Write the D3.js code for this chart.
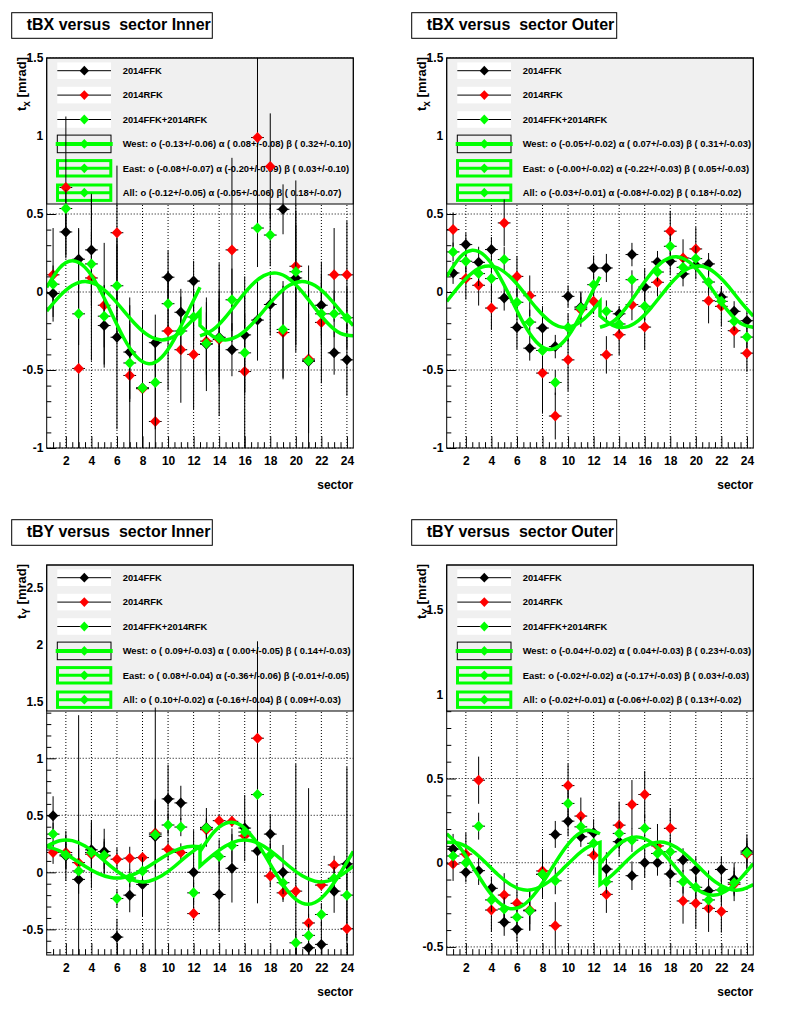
<!DOCTYPE html>
<html>
<head>
<meta charset="utf-8">
<script src="https://cdn.jsdelivr.net/npm/d3@7"></script>
<style>
  body { margin: 0; background: #fff; }
  text { font-family: "Liberation Sans", Arial, Helvetica, sans-serif; font-weight: bold; white-space: pre; }
</style>
</head>
<body>
<svg id="chart" width="800" height="1014"></svg>
<script>
const sectors = [1,2,3,4,5,6,7,8,9,10,11,12,13,14,15,16,17,18,19,20,21,22,23,24];
const sectorTicks = [2,4,6,8,10,12,14,16,18,20,22,24];
const sectorXErr = 0.5;
const fitWestX = [0.5,1.5,2.5,3.5,4.5,5.5,6.5,7.5,8.5,9.5,10.5,11.5,12.5];
const fitEastX = [12.5,13.5,14.5,15.5,16.5,17.5,18.5,19.5,20.5,21.5,22.5,23.5,24.5];
const seriesNames = ['2014FFK', '2014RFK', '2014FFK+2014RFK'];

// tBX Inner
const bxInFFK = [-0.01,0.385,0.21,0.27,-0.215,-0.29,-0.385,-0.615,-0.325,0.095,-0.13,0.07,-0.335,-0.29,-0.37,-0.275,-0.18,-0.08,0.53,0.09,-0.445,-0.085,-0.39,-0.435];
const bxInFFKErr = [0.15,0.15,0.19,0.36,0.25,0.59,0.3,0.46,0.18,0.17,0.15,0.13,0.3,0.3,0.17,0.375,0.26,0.2,0.16,0.43,0.46,0.2,0.14,0.23];
const bxInRFK = [0.11,0.67,-0.49,0.09,-0.085,0.38,-0.535,-0.62,-0.83,-0.25,-0.37,-0.4,-0.315,-0.305,0.27,-0.51,0.99,0.805,-0.26,0.165,-0.43,-0.195,0.11,0.11];
const bxInRFKErr = [0.3,0.455,0.9,0.53,0.4,0.43,0.5,0.5,0.5,0.38,0.34,0.35,0.25,0.49,0.59,0.5,0.6,0.34,0.3,0.55,0.6,0.39,0.3,0.345];
const bxInSum = [0.05,0.535,-0.14,0.18,-0.155,0.04,-0.455,-0.615,-0.58,-0.075,-0.25,-0.16,-0.33,-0.295,-0.05,-0.39,0.41,0.365,-0.24,0.13,-0.44,-0.14,-0.14,-0.165];
const bxInSumErr = [0.12,0.12,0.2,0.2,0.2,0.3,0.25,0.3,0.3,0.15,0.15,0.15,0.2,0.25,0.2,0.25,0.25,0.2,0.31,0.3,0.3,0.2,0.15,0.2];
const bxInWest = [0.03,0.153,0.2,0.158,0.04,-0.124,-0.29,-0.413,-0.46,-0.418,-0.3,-0.136,0.03];
const bxInEast = [-0.281,-0.243,-0.161,-0.057,0.04,0.105,0.121,0.083,0.001,-0.103,-0.2,-0.265,-0.281];
const bxInAllW = [-0.122,-0.028,0.041,0.067,0.043,-0.025,-0.118,-0.212,-0.281,-0.307,-0.283,-0.215,-0.122];
const bxInAllE = [-0.215,-0.283,-0.307,-0.281,-0.212,-0.118,-0.025,0.043,0.067,0.041,-0.028,-0.122,-0.215];
const bxInFits = [
  'West: o (-0.13+/-0.06) \u03b1 ( 0.08+/-0.08) \u03b2 ( 0.32+/-0.10)',
  'East: o (-0.08+/-0.07) \u03b1 (-0.20+/-0.09) \u03b2 ( 0.03+/-0.10)',
  'All: o (-0.12+/-0.05) \u03b1 (-0.05+/-0.06) \u03b2 ( 0.18+/-0.07)'
];

// tBX Outer
const bxOutFFK = [0.122,0.304,0.19,0.272,-0.039,-0.227,-0.36,-0.231,-0.35,-0.028,-0.096,0.154,0.154,-0.14,0.24,0.032,0.193,0.197,0.116,0.171,0.18,-0.032,-0.124,-0.184];
const bxOutFFKErr = [0.07,0.075,0.1,0.08,0.08,0.14,0.08,0.14,0.075,0.07,0.1,0.08,0.09,0.05,0.075,0.12,0.07,0.09,0.08,0.09,0.07,0.06,0.065,0.07];
const bxOutRFK = [0.4,0.086,0.043,-0.103,0.443,0.1,-0.024,-0.52,-0.795,-0.435,-0.113,-0.06,-0.403,-0.274,-0.081,-0.225,0.062,0.39,0.218,0.276,-0.056,-0.092,-0.248,-0.392];
const bxOutRFKErr = [0.11,0.135,0.13,0.14,0.15,0.13,0.13,0.26,0.15,0.2,0.11,0.075,0.12,0.13,0.1,0.145,0.09,0.13,0.12,0.14,0.145,0.13,0.11,0.12];
const bxOutSum = [0.257,0.197,0.118,0.086,0.208,-0.066,-0.193,-0.375,-0.58,-0.227,-0.103,0.047,-0.124,-0.205,0.079,-0.092,0.128,0.293,0.158,0.214,0.064,-0.06,-0.188,-0.289];
const bxOutSumErr = [0.06,0.07,0.08,0.08,0.08,0.09,0.08,0.12,0.08,0.09,0.07,0.06,0.07,0.06,0.06,0.09,0.06,0.08,0.07,0.08,0.07,0.06,0.06,0.07];
const bxOutWest = [0.098,0.219,0.268,0.231,0.12,-0.037,-0.198,-0.319,-0.368,-0.331,-0.22,-0.063,0.098];
const bxOutEast = [-0.226,-0.191,-0.105,0.009,0.12,0.2,0.226,0.191,0.105,-0.009,-0.12,-0.2,-0.226];
const bxOutAllW = [-0.061,0.041,0.123,0.165,0.154,0.094,0.001,-0.101,-0.183,-0.225,-0.214,-0.154,-0.061];
const bxOutAllE = [-0.154,-0.214,-0.225,-0.183,-0.101,0.001,0.094,0.154,0.165,0.123,0.041,-0.061,-0.154];
const bxOutFits = [
  'West: o (-0.05+/-0.02) \u03b1 ( 0.07+/-0.03) \u03b2 ( 0.31+/-0.03)',
  'East: o (-0.00+/-0.02) \u03b1 (-0.22+/-0.03) \u03b2 ( 0.05+/-0.03)',
  'All: o (-0.03+/-0.01) \u03b1 (-0.08+/-0.02) \u03b2 ( 0.18+/-0.02)'
];

// tBY Inner
const byInFFK = [0.497,0.144,-0.062,0.197,0.182,-0.568,-0.2,-0.106,0.315,0.644,0.609,0.0,0.394,-0.194,0.035,0.388,0.188,0.335,0.0,-0.85,-0.662,-0.632,-0.165,0.074];
const byInFFKErr = [0.17,0.22,1.44,0.24,0.2,0.16,0.15,0.28,1.13,0.3,0.15,0.37,0.17,0.33,0.3,0.29,0.46,0.17,0.24,1.8,1.4,0.2,0.19,0.85];
const byInRFK = [0.174,0.174,0.085,0.159,0.144,0.115,0.124,0.129,0.344,0.203,0.174,-0.362,0.374,0.453,0.447,0.32,1.176,-0.032,-0.18,-0.165,-0.444,-0.112,0.065,-0.494];
const byInRFKErr = [0.1,0.15,0.2,0.3,0.15,0.1,0.1,0.05,0.3,0.1,0.08,0.06,0.1,0.05,0.05,0.05,0.85,0.1,0.08,0.05,0.08,0.05,0.08,0.1];
const byInSum = [0.335,0.153,0.012,0.174,0.15,-0.23,-0.05,0.012,0.329,0.415,0.397,-0.18,0.388,0.138,0.235,0.353,0.682,0.153,-0.091,-0.618,-0.553,-0.37,-0.053,-0.2];
const byInSumErr = [0.1,0.12,0.2,0.15,0.12,0.08,0.08,0.12,0.3,0.1,0.08,0.1,0.08,0.15,0.15,0.1,0.3,0.1,0.1,0.1,0.1,0.1,0.1,0.2];
const byInWest = [0.225,0.189,0.126,0.054,-0.009,-0.045,-0.045,-0.009,0.054,0.126,0.189,0.225,0.225];
const byInEast = [0.183,0.342,0.43,0.425,0.327,0.164,-0.023,-0.182,-0.27,-0.265,-0.167,-0.004,0.183];
const byInAllW = [0.228,0.277,0.278,0.231,0.15,0.055,-0.028,-0.077,-0.078,-0.031,0.051,0.146,0.228];
const byInAllE = [0.055,0.15,0.231,0.278,0.277,0.228,0.146,0.051,-0.031,-0.078,-0.077,-0.028,0.055];
const byInFits = [
  'West: o ( 0.09+/-0.03) \u03b1 ( 0.00+/-0.05) \u03b2 ( 0.14+/-0.03)',
  'East: o ( 0.08+/-0.04) \u03b1 (-0.36+/-0.06) \u03b2 (-0.01+/-0.05)',
  'All: o ( 0.10+/-0.02) \u03b1 (-0.16+/-0.04) \u03b2 ( 0.09+/-0.03)'
];

// tBY Outer
const byOutFFK = [0.081,-0.057,-0.047,-0.152,-0.354,-0.395,-0.285,-0.069,0.168,0.247,0.154,0.178,-0.038,0.125,-0.077,0.0,0.0,-0.067,0.016,-0.043,-0.166,-0.04,-0.099,0.069];
const byOutFFKErr = [0.09,0.06,0.085,0.07,0.08,0.075,0.12,0.14,0.08,0.09,0.06,0.08,0.1,0.09,0.085,0.09,0.077,0.075,0.07,0.08,0.12,0.075,0.1,0.1];
const byOutRFK = [-0.008,0.051,0.49,-0.281,-0.192,-0.241,-0.281,-0.049,-0.374,0.458,0.277,0.045,-0.188,0.223,0.346,0.405,0.1,0.204,-0.227,-0.241,-0.271,-0.29,-0.128,0.051];
const byOutRFKErr = [0.1,0.127,0.14,0.13,0.13,0.12,0.12,0.13,0.14,0.13,0.11,0.12,0.11,0.14,0.145,0.14,0.13,0.12,0.135,0.15,0.14,0.125,0.1,0.09];
const byOutSum = [0.04,0.0,0.217,-0.221,-0.275,-0.324,-0.285,-0.069,-0.107,0.352,0.213,0.115,-0.113,0.174,0.134,0.204,0.055,0.065,-0.113,-0.146,-0.221,-0.162,-0.119,0.059];
const byOutSumErr = [0.07,0.07,0.08,0.07,0.07,0.07,0.08,0.1,0.08,0.08,0.06,0.07,0.07,0.07,0.07,0.08,0.07,0.07,0.07,0.07,0.08,0.07,0.07,0.06];
const byOutWest = [0.172,0.094,-0.019,-0.138,-0.231,-0.273,-0.252,-0.174,-0.061,0.058,0.151,0.193,0.172];
const byOutEast = [-0.005,0.079,0.136,0.152,0.121,0.053,-0.035,-0.119,-0.176,-0.192,-0.161,-0.093,-0.005];
const byOutAllW = [0.121,0.114,0.072,0.004,-0.07,-0.13,-0.161,-0.154,-0.112,-0.044,0.03,0.09,0.121];
const byOutAllE = [-0.13,-0.07,0.004,0.072,0.114,0.121,0.09,0.03,-0.044,-0.112,-0.154,-0.161,-0.13];
const byOutFits = [
  'West: o (-0.04+/-0.02) \u03b1 ( 0.04+/-0.03) \u03b2 ( 0.23+/-0.03)',
  'East: o (-0.02+/-0.02) \u03b1 (-0.17+/-0.03) \u03b2 ( 0.03+/-0.03)',
  'All: o (-0.02+/-0.01) \u03b1 (-0.06+/-0.02) \u03b2 ( 0.13+/-0.02)'
];

const yTicksX = [-1, -0.5, 0, 0.5, 1, 1.5];
const yTicksYIn = [-0.5, 0, 0.5, 1, 1.5, 2, 2.5];
const yTicksYOut = [-0.5, 0, 0.5, 1, 1.5];

const panels = [
  { title: 'tBX versus  sector Inner', sub: 'x', yDomain: [-1, 1.5], yTicks: yTicksX,
    series: [[bxInFFK, bxInFFKErr], [bxInRFK, bxInRFKErr], [bxInSum, bxInSumErr]],
    fits: [bxInWest, bxInEast, bxInAllW, bxInAllE], labels: bxInFits },
  { title: 'tBX versus  sector Outer', sub: 'x', yDomain: [-1, 1.5], yTicks: yTicksX,
    series: [[bxOutFFK, bxOutFFKErr], [bxOutRFK, bxOutRFKErr], [bxOutSum, bxOutSumErr]],
    fits: [bxOutWest, bxOutEast, bxOutAllW, bxOutAllE], labels: bxOutFits },
  { title: 'tBY versus  sector Inner', sub: 'Y', yDomain: [-0.725, 2.695], yTicks: yTicksYIn,
    series: [[byInFFK, byInFFKErr], [byInRFK, byInRFKErr], [byInSum, byInSumErr]],
    fits: [byInWest, byInEast, byInAllW, byInAllE], labels: byInFits },
  { title: 'tBY versus  sector Outer', sub: 'Y', yDomain: [-0.548, 1.768], yTicks: yTicksYOut,
    series: [[byOutFFK, byOutFFKErr], [byOutRFK, byOutRFKErr], [byOutSum, byOutSumErr]],
    fits: [byOutWest, byOutEast, byOutAllW, byOutAllE], labels: byOutFits }
];

const FONT = '"Liberation Sans", Arial, Helvetica, sans-serif';
const colors = ['#000000', '#ff0000', '#00ff00'];
const fitColor = '#00ff00';
const svg = d3.select('#chart');

const diamond = (w, h) => `M0,${-h}L${w},0L0,${h}L${-w},0Z`;

panels.forEach((p, i) => {
  const col = i % 2, row = Math.floor(i / 2);
  const ox = 400 * col, oy = 507 * row;
  const x0 = 46.7 + ox, x1 = 353.3 + ox, y0 = 58 + oy, y1 = 448 + oy;
  const legH = 146;

  const x = d3.scaleLinear().domain([0.5, 24.5]).range([x0, x1]);
  const y = d3.scaleLinear().domain(p.yDomain).range([y1, y0]);
  const g = svg.append('g');

  // title box
  g.append('rect')
    .attr('x', 11.7 + ox).attr('y', 12.7 + oy)
    .attr('width', col === 0 ? 200.6 : 205).attr('height', 25.6)
    .attr('fill', '#fff').attr('stroke', '#000');
  g.append('text')
    .attr('x', 26.7 + ox).attr('y', 29.5 + oy)
    .attr('font-size', 16)
    .text(p.title);

  const clipId = 'clip' + i;
  svg.append('clipPath').attr('id', clipId)
    .append('rect').attr('x', x0).attr('y', y0).attr('width', x1 - x0).attr('height', y1 - y0);

  // grid
  g.append('g').selectAll('line').data(sectorTicks).join('line')
    .attr('x1', d => x(d)).attr('x2', d => x(d))
    .attr('y1', y0).attr('y2', y1)
    .attr('stroke', '#000').attr('stroke-dasharray', '1,2');
  g.append('g').selectAll('line').data(p.yTicks).join('line')
    .attr('x1', x0).attr('x2', x1)
    .attr('y1', d => y(d)).attr('y2', d => y(d))
    .attr('stroke', '#000').attr('stroke-dasharray', '1,2');

  // axes
  const xMinor = d3.range(1, 24.01, 0.5).filter(d => d % 2 !== 0);
  const axMinor = g.append('g').attr('transform', `translate(0,${y1})`)
    .call(d3.axisBottom(x).tickValues(xMinor).tickSize(-5.85).tickFormat(''));
  axMinor.select('.domain').remove();
  const axX = g.append('g').attr('transform', `translate(0,${y1})`)
    .call(d3.axisBottom(x).tickValues(sectorTicks).tickSize(-11.7).tickPadding(8.5).tickFormat(d3.format('d')));
  axX.select('.domain').remove();
  axX.attr('font-family', FONT).attr('font-size', 12).attr('font-weight', 'bold');

  const yMinor = d3.range(Math.ceil(p.yDomain[0] * 10), Math.floor(p.yDomain[1] * 10) + 1)
    .map(d => d / 10).filter(d => Math.abs(d * 2 - Math.round(d * 2)) > 1e-6);
  const ayMinor = g.append('g').attr('transform', `translate(${x0},0)`)
    .call(d3.axisLeft(y).tickValues(yMinor).tickSize(-4.6).tickFormat(''));
  ayMinor.select('.domain').remove();
  const axY = g.append('g').attr('transform', `translate(${x0},0)`)
    .call(d3.axisLeft(y).tickValues(p.yTicks).tickSize(-9.2).tickPadding(3.4)
      .tickFormat(d => String(d)));
  axY.select('.domain').remove();
  axY.attr('font-family', FONT).attr('font-size', 12).attr('font-weight', 'bold');

  // axis titles
  g.append('text')
    .attr('x', x1).attr('y', 489 + oy)
    .attr('text-anchor', 'end').attr('font-size', 12)
    .text('sector');
  const yt = g.append('text')
    .attr('transform', `translate(${25.5 + ox},${57 + oy}) rotate(-90)`)
    .attr('text-anchor', 'end').attr('font-size', 13);
  yt.append('tspan').text('t');
  yt.append('tspan').attr('dy', 4).attr('font-size', 10).text(p.sub);
  yt.append('tspan').attr('dy', -4).text(' [mrad]');

  // legend
  const leg = g.append('g');
  leg.append('rect')
    .attr('x', x0).attr('y', y0).attr('width', x1 - x0).attr('height', legH)
    .attr('fill', '#f0f0f0').attr('stroke', '#000');
  const rowY = k => y0 + 12.7 + k * 24.4;
  const symX = x0 + 37.6;
  seriesNames.forEach((name, k) => {
    leg.append('rect').attr('x', x0 + 10.6).attr('y', rowY(k) - 8.3)
      .attr('width', 53.7).attr('height', 16.6).attr('fill', '#fff');
    leg.append('line').attr('x1', x0 + 10.6).attr('x2', x0 + 64.3)
      .attr('y1', rowY(k)).attr('y2', rowY(k)).attr('stroke', '#000');
    leg.append('path').attr('d', diamond(4.7, 4.9))
      .attr('transform', `translate(${symX},${rowY(k)})`).attr('fill', colors[k]);
    leg.append('text').attr('x', x0 + 76).attr('y', rowY(k) + 3.3)
      .attr('font-size', 9.4).text(name);
  });
  p.labels.forEach((lab, j) => {
    const k = j + 3, cy = rowY(k);
    if (j === 0) {
      leg.append('rect').attr('x', x0 + 10.6).attr('y', cy - 8.8)
        .attr('width', 53.7).attr('height', 17.6).attr('fill', 'none').attr('stroke', '#000');
      leg.append('line').attr('x1', x0 + 9).attr('x2', x0 + 66)
        .attr('y1', cy).attr('y2', cy).attr('stroke', fitColor).attr('stroke-width', 4);
    } else {
      leg.append('rect').attr('x', x0 + 10.8).attr('y', cy - 7.7)
        .attr('width', 53.3).attr('height', 15.4).attr('fill', 'none')
        .attr('stroke', fitColor).attr('stroke-width', 3);
      leg.append('line').attr('x1', x0 + 10.8).attr('x2', x0 + 64.1)
        .attr('y1', cy).attr('y2', cy).attr('stroke', fitColor).attr('stroke-width', 3);
    }
    leg.append('path').attr('d', diamond(4.7, 4.9))
      .attr('transform', `translate(${symX},${cy})`).attr('fill', fitColor);
    leg.append('text').attr('x', x0 + 76).attr('y', cy + 3.3)
      .attr('font-size', 9.4).text(lab);
  });

  // data points with error bars
  const data = g.append('g').attr('clip-path', `url(#${clipId})`);
  p.series.forEach(([vals, errs], k) => {
    const pts = sectors.map((s, n) => ({ s, v: vals[n], e: errs[n] }));
    const sg = data.append('g');
    sg.selectAll('line.ey').data(pts).join('line').attr('class', 'ey')
      .attr('x1', d => x(d.s)).attr('x2', d => x(d.s))
      .attr('y1', d => y(d.v - d.e)).attr('y2', d => y(d.v + d.e))
      .attr('stroke', '#000');
    sg.selectAll('line.ex').data(pts).join('line').attr('class', 'ex')
      .attr('x1', d => x(d.s - sectorXErr)).attr('x2', d => x(d.s + sectorXErr))
      .attr('y1', d => y(d.v)).attr('y2', d => y(d.v))
      .attr('stroke', '#000');
    sg.selectAll('path').data(pts).join('path')
      .attr('d', diamond(5.3, 5.5))
      .attr('transform', d => `translate(${x(d.s)},${y(d.v)})`)
      .attr('fill', colors[k]);
  });

  // fitted curves
  const line = d3.line().x(d => x(d[0])).y(d => y(d[1])).curve(d3.curveNatural);
  const [west, east, allW, allE] = p.fits;
  const fg = g.append('g').attr('clip-path', `url(#${clipId})`)
    .attr('fill', 'none').attr('stroke', fitColor).attr('stroke-width', 3.5);
  fg.append('path').attr('d', line(d3.zip(fitWestX, west)));
  fg.append('path').attr('d', line(d3.zip(fitEastX, east)));
  fg.append('path').attr('d', line(d3.zip(fitWestX, allW)) + line(d3.zip(fitEastX, allE)).replace(/^M/, 'L'));

  // frame
  g.append('rect').attr('x', x0).attr('y', y0).attr('width', x1 - x0).attr('height', y1 - y0)
    .attr('fill', 'none').attr('stroke', '#000');
});
</script>
</body>
</html>
